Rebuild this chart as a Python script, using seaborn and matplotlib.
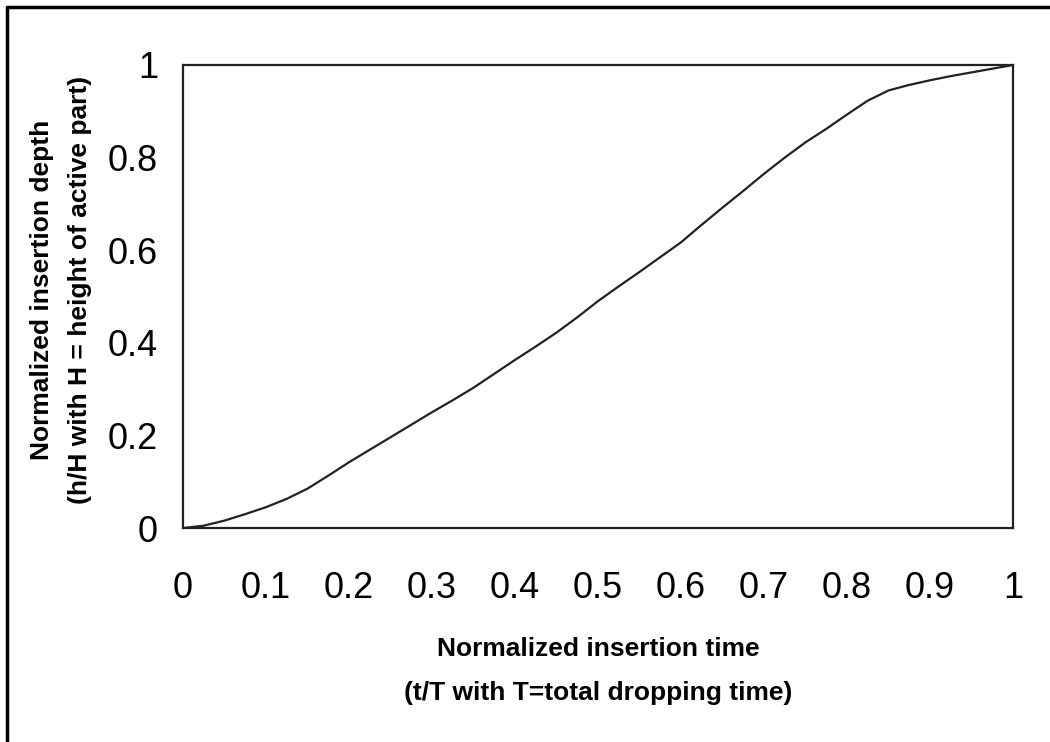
import matplotlib
matplotlib.use("Agg")
import matplotlib.pyplot as plt
import seaborn as sns
import pandas as pd
from matplotlib.lines import Line2D

t_values = [0.0, 0.025, 0.05, 0.075, 0.1, 0.125, 0.15, 0.175, 0.2, 0.225, 0.25,
            0.275, 0.3, 0.325, 0.35, 0.375, 0.4, 0.425, 0.45, 0.475, 0.5,
            0.525, 0.55, 0.575, 0.6, 0.625, 0.65, 0.675, 0.7, 0.725, 0.75,
            0.775, 0.8, 0.825, 0.85, 0.875, 0.9, 0.925, 0.95, 0.975, 1.0]
h_values = [0.0, 0.005, 0.016, 0.03, 0.045, 0.063, 0.085, 0.113, 0.142, 0.169, 0.196,
            0.223, 0.25, 0.276, 0.303, 0.333, 0.363, 0.392, 0.422, 0.455, 0.49,
            0.522, 0.553, 0.585, 0.617, 0.655, 0.692, 0.728, 0.765, 0.8, 0.833,
            0.862, 0.893, 0.923, 0.945, 0.957, 0.967, 0.976, 0.984, 0.992, 1.0]
x_ticks = [0, 0.1, 0.2, 0.3, 0.4, 0.5, 0.6, 0.7, 0.8, 0.9, 1]
x_tick_labels = ["0", "0.1", "0.2", "0.3", "0.4", "0.5", "0.6", "0.7", "0.8", "0.9", "1"]
y_ticks = [0, 0.2, 0.4, 0.6, 0.8, 1]
y_tick_labels = ["0", "0.2", "0.4", "0.6", "0.8", "1"]
x_label = ["Normalized insertion time", "(t/T with T=total dropping time)"]
y_label = ["Normalized insertion depth", "(h/H with H = height of active part)"]

sns.set_style("white")
plt.rcParams['font.family'] = ['Liberation Sans', 'DejaVu Sans']
plt.rcParams['text.color'] = 'black'

df = pd.DataFrame({"t": t_values, "h": h_values})

fig = plt.figure(figsize=(10.5, 7.42), dpi=100)
ax = fig.add_axes([183/1050, 1 - 528/742, (1013-183)/1050, (528-65)/742])

sns.lineplot(data=df, x="t", y="h", ax=ax, color="#222222", linewidth=1.6)

ax.set_xlim(0, 1)
ax.set_ylim(0, 1)
ax.set_xticks(x_ticks)
ax.set_xticklabels(x_tick_labels)
ax.set_yticks(y_ticks)
ax.set_yticklabels(y_tick_labels)
ax.tick_params(axis="both", direction="out", length=10, width=1, color="#333333",
               labelsize=26, labelcolor="black")
ax.tick_params(axis="x", pad=21)
ax.tick_params(axis="y", pad=8)
ax.set_xlabel("")
ax.set_ylabel("")
for s in ax.spines.values():
    s.set_visible(True)
    s.set_color("#222222")
    s.set_linewidth(1.6)

fig.text(598/1050, 1 - 649/742, x_label[0], ha="center", va="center",
         fontsize=19, fontweight="bold", color="black")
fig.text(598/1050, 1 - 693/742, x_label[1], ha="center", va="center",
         fontsize=19, fontweight="bold", color="black")
fig.text(42/1050, 1 - 290/742, y_label[0], ha="center", va="center",
         rotation=90, fontsize=19, fontweight="bold", color="black")
fig.text(80/1050, 1 - 290/742, y_label[1], ha="center", va="center",
         rotation=90, fontsize=19, fontweight="bold", color="black")

fig.add_artist(Line2D([7/1050, 7/1050], [0, 1 - 7/742], transform=fig.transFigure,
                      color="black", linewidth=2.5))
fig.add_artist(Line2D([7/1050, 1], [1 - 7/742, 1 - 7/742], transform=fig.transFigure,
                      color="black", linewidth=2.5))

fig.savefig("out.png", dpi=100)
